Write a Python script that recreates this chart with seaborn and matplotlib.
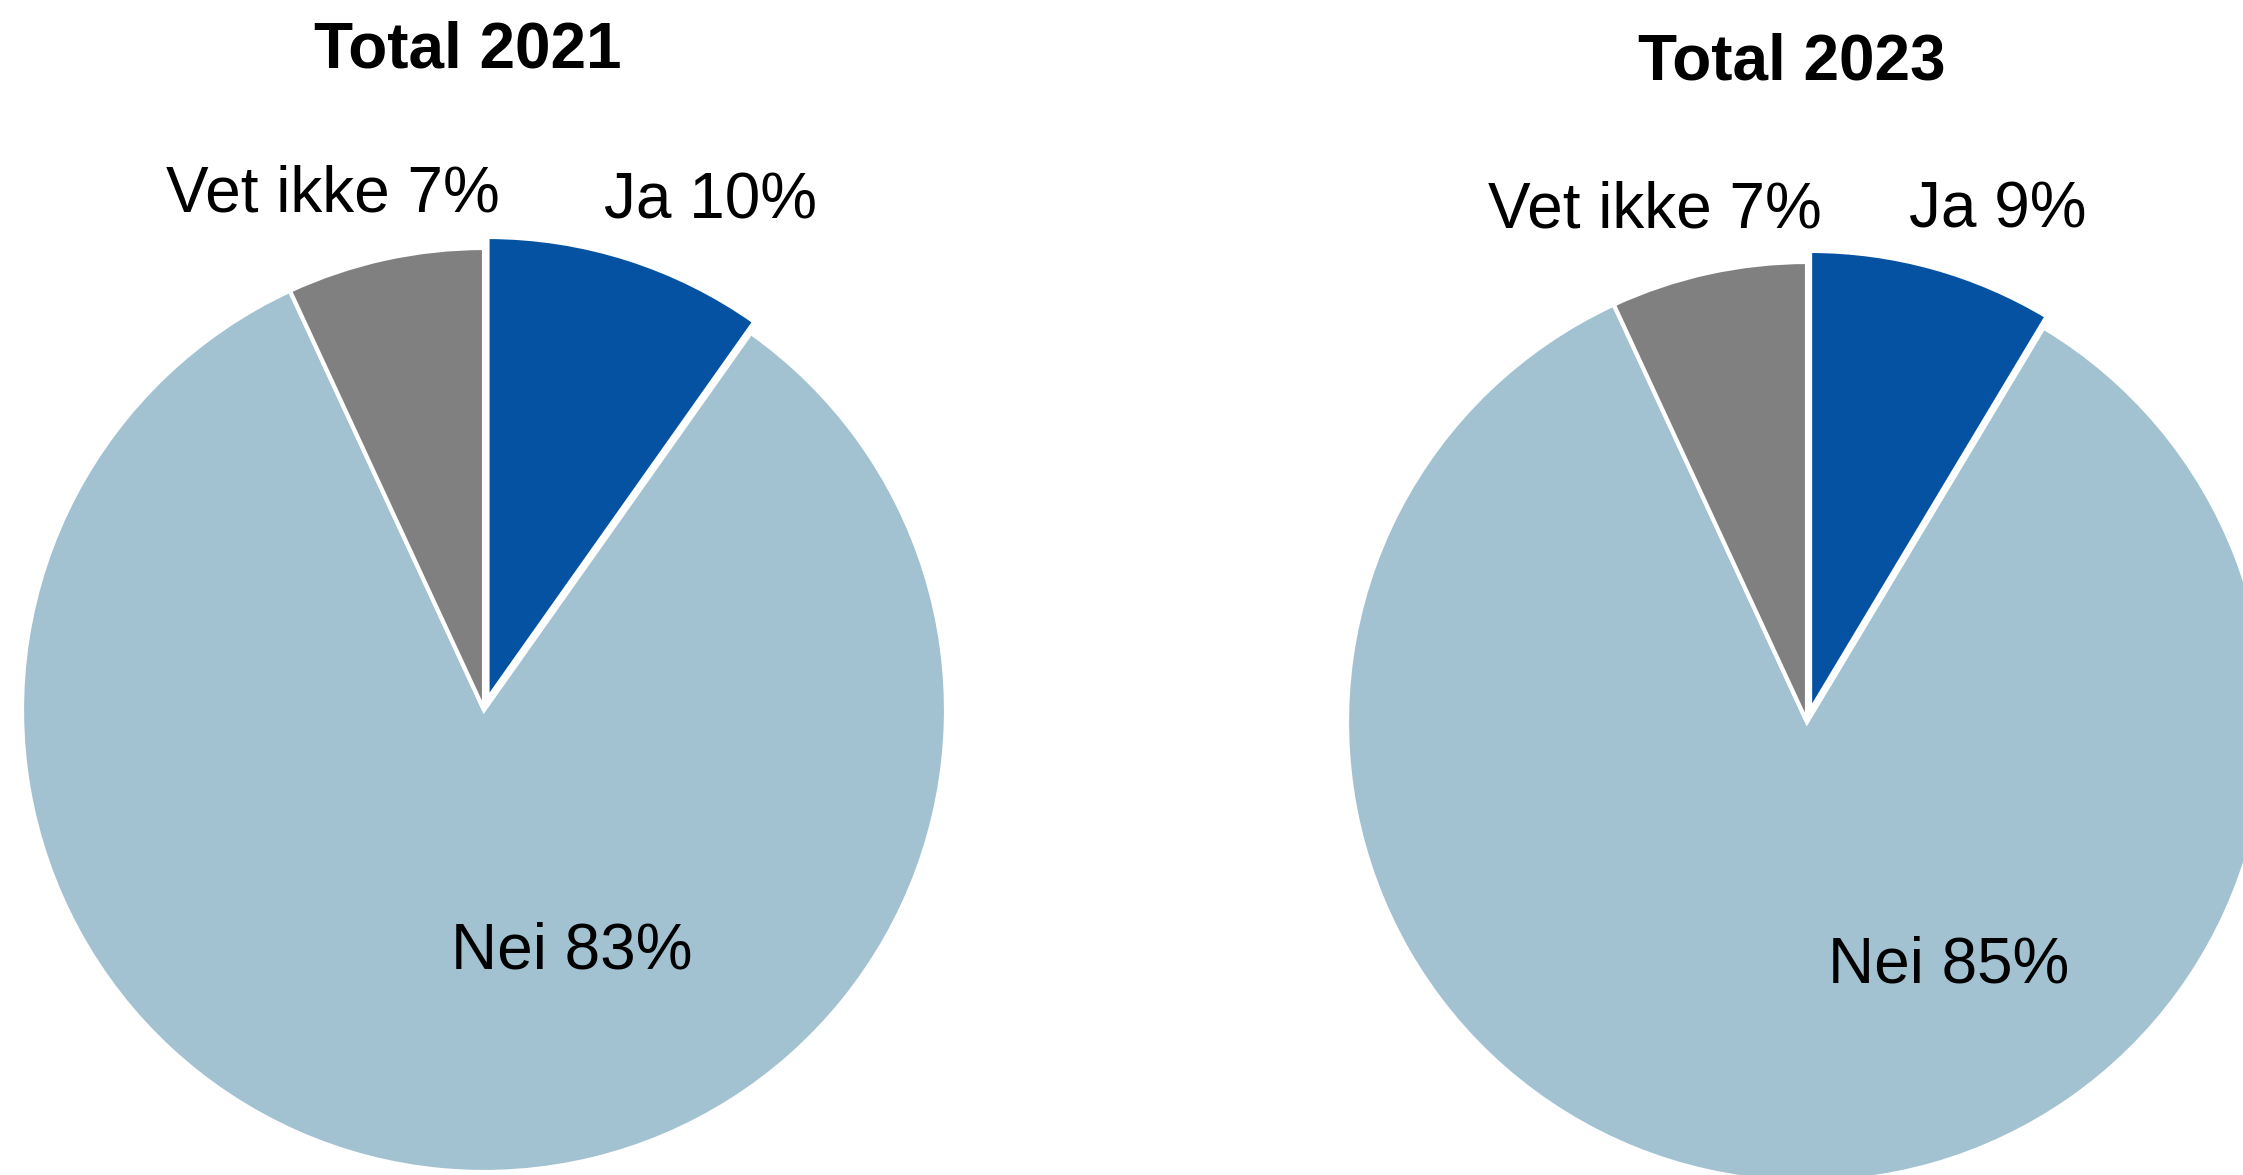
import matplotlib
matplotlib.use("Agg")
import matplotlib.pyplot as plt
import seaborn as sns

# survey answers, share in percent
categories = ["Ja", "Nei", "Vet ikke"]
values_2021 = [9.8, 83.3, 6.9]
values_2023 = [8.6, 84.5, 6.9]
labels_2021 = ["Ja 10%", "Nei 83%", "Vet ikke 7%"]
labels_2023 = ["Ja 9%", "Nei 85%", "Vet ikke 7%"]
titles = ["Total 2021", "Total 2023"]

colors = ["#0552A3", "#A2C2D1", "#808080"]


def main():
    sns.set_theme(style="white")
    plt.rcParams["font.family"] = ["Liberation Sans", "DejaVu Sans"]

    W, H = 2243, 1175
    fig = plt.figure(figsize=(W / 100, H / 100), dpi=100)

    lim = 1.1
    # (center x, center y from top, radius) in pixels, label offsets in radius units
    panels = [
        ((484, 710, 462), values_2021, labels_2021, titles[0],
         [(0.49, 1.10), (0.19, -0.523), (-0.327, 1.115)], (-0.035, 1.428)),
        ((1807, 722, 460), values_2023, labels_2023, titles[1],
         [(0.415, 1.112), (0.307, -0.53), (-0.33, 1.112)], (-0.033, 1.433)),
    ]

    for (cx, cy, r), vals, labs, title, lab_pos, title_pos in panels:
        size = 2 * lim * r
        ax = fig.add_axes([(cx - lim * r) / W, (H - cy - lim * r) / H, size / W, size / H])
        ax.pie(
            vals,
            colors=colors,
            startangle=90,
            counterclock=False,
            explode=[0.025, 0, 0],
            wedgeprops={"edgecolor": "white", "linewidth": 3},
        )
        ax.set_aspect("auto")
        ax.set_xlim(-lim, lim)
        ax.set_ylim(-lim, lim)
        ax.axis("off")

        for lab, (x, y) in zip(labs, lab_pos):
            ax.text(x, y, lab, ha="center", va="center", fontsize=46, color="black")
        ax.text(title_pos[0], title_pos[1], title, ha="center", va="center",
                fontsize=46, fontweight="bold", color="black")

    fig.savefig("out.png", dpi=100)


if __name__ == '__main__':
    main()
